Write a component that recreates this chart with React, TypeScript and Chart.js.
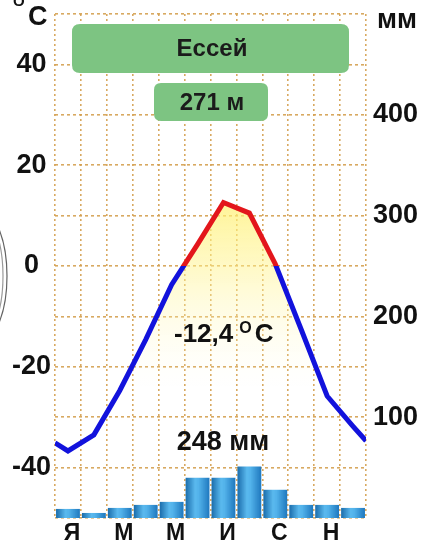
import React, { useEffect, useRef } from 'react';
import { Chart, registerables } from 'chart.js';

Chart.register(...registerables);

// ---- data ----
const months = ['Я', 'Ф', 'М', 'А', 'М', 'И', 'И', 'А', 'С', 'О', 'Н', 'Д'];
const temperature = [-36.7, -33.5, -24.7, -14.6, -3.7, 4.3, 12.6, 10.5, 0.4, -12.6, -25.8, -31.8];
const edgeTemperature = [-35.1, -34.7]; // values at the left and right edges of the plot
const precipitation = [9, 5, 10, 13, 16, 40, 40, 51, 28, 13, 13, 10];
const tempTicks = [-40, -20, 0, 20, 40];
const precipTicks = [100, 200, 300, 400];
const stationName = 'Ессей';
const elevationText = '271 м';
const meanTempText = '-12,4';
const totalPrecipText = '248 мм';
const tempUnit = 'C';
const precipUnit = 'мм';

const FONT = "'Liberation Sans', Arial, sans-serif";
const RED = '#e3161b';
const BLUE = '#1212dc';
const GRID = 'rgba(212,160,80,0.9)';

let barPatternCache: { key: string; pat: CanvasPattern | null } = { key: '', pat: null };

function barFill(context: any) {
  const chart = context.chart;
  const area = chart.chartArea;
  if (!area) return '#3a9ad8';
  const key = area.left + ':' + area.right;
  if (barPatternCache.key !== key || !barPatternCache.pat) {
    const w = Math.ceil(area.right - area.left);
    const off = document.createElement('canvas');
    off.width = w;
    off.height = 1;
    const oc = off.getContext('2d')!;
    const slot = (area.right - area.left) / months.length;
    for (let i = 0; i < months.length; i++) {
      const x0 = i * slot;
      const g = oc.createLinearGradient(x0 + slot * 0.04, 0, x0 + slot * 0.96, 0);
      g.addColorStop(0, '#1a6cab');
      g.addColorStop(0.4, '#5ab9ee');
      g.addColorStop(0.55, '#52b2ea');
      g.addColorStop(1, '#1f78be');
      oc.fillStyle = g;
      oc.fillRect(x0, 0, slot + 1, 1);
    }
    const pat = chart.ctx.createPattern(off, 'repeat-y');
    if (pat && (pat as any).setTransform) {
      pat.setTransform(new DOMMatrix([1, 0, 0, 1, area.left, 0]));
    }
    barPatternCache = { key, pat };
  }
  return barPatternCache.pat;
}

function lineStroke(context: any) {
  const chart = context.chart;
  const area = chart.chartArea;
  const ys = chart.scales && chart.scales.y;
  if (!area || !ys) return BLUE;
  const y0 = ys.getPixelForValue(0);
  const g = chart.ctx.createLinearGradient(0, area.top, 0, area.bottom);
  const f = Math.min(1, Math.max(0, (y0 - area.top) / (area.bottom - area.top)));
  g.addColorStop(0, RED);
  g.addColorStop(f, RED);
  g.addColorStop(f, BLUE);
  g.addColorStop(1, BLUE);
  return g;
}

function lineFill(context: any) {
  const chart = context.chart;
  const area = chart.chartArea;
  const ys = chart.scales && chart.scales.y;
  if (!area || !ys) return 'rgba(255,245,150,0.4)';
  const yTop = ys.getPixelForValue(14);
  const yZero = ys.getPixelForValue(0);
  const yLow = ys.getPixelForValue(-24);
  const g = chart.ctx.createLinearGradient(0, yTop, 0, yLow);
  const f = (yZero - yTop) / (yLow - yTop);
  g.addColorStop(0, 'rgba(255,240,110,0.75)');
  g.addColorStop(f, 'rgba(255,243,140,0.5)');
  g.addColorStop(1, 'rgba(255,252,220,0)');
  return g;
}

function roundRect(c: CanvasRenderingContext2D, x: number, y: number, w: number, h: number, r: number) {
  c.beginPath();
  c.moveTo(x + r, y);
  c.lineTo(x + w - r, y);
  c.quadraticCurveTo(x + w, y, x + w, y + r);
  c.lineTo(x + w, y + h - r);
  c.quadraticCurveTo(x + w, y + h, x + w - r, y + h);
  c.lineTo(x + r, y + h);
  c.quadraticCurveTo(x, y + h, x, y + h - r);
  c.lineTo(x, y + r);
  c.quadraticCurveTo(x, y, x + r, y);
  c.closePath();
}

const decorPlugin = {
  id: 'decor',
  afterDraw(chart: any) {
    const c: CanvasRenderingContext2D = chart.ctx;
    c.save();
    // station boxes
    c.fillStyle = '#7dc482';
    roundRect(c, 72, 24, 277, 49, 8);
    c.fill();
    roundRect(c, 154, 83, 114, 38, 7);
    c.fill();
    c.fillStyle = '#1b1b1b';
    c.textAlign = 'center';
    c.textBaseline = 'middle';
    c.font = `bold 24px ${FONT}`;
    c.fillText(stationName, 212, 49);
    c.fillText(elevationText, 212, 103);

    // unit labels
    c.fillStyle = '#111';
    c.textBaseline = 'alphabetic';
    c.textAlign = 'left';
    c.font = `bold 27px ${FONT}`;
    c.fillText(tempUnit, 28, 25);
    c.font = `bold 15px ${FONT}`;
    c.fillText('O', 13, 6);
    c.font = `bold 27px ${FONT}`;
    c.fillText(precipUnit, 377, 28);

    // mean temperature
    c.font = `bold 26px ${FONT}`;
    c.fillText(meanTempText, 174, 342);
    const w1 = c.measureText(meanTempText).width;
    c.font = `bold 16px ${FONT}`;
    c.fillText('O', 174 + w1 + 6, 333);
    const wo = c.measureText('O').width;
    c.font = `bold 26px ${FONT}`;
    c.fillText(tempUnit, 174 + w1 + 6 + wo + 3, 342);

    // total precipitation
    c.textAlign = 'center';
    c.font = `bold 27px ${FONT}`;
    c.fillText(totalPrecipText, 223, 450);

    // stray ellipse edge at the left border
    c.strokeStyle = 'rgba(70,70,70,0.85)';
    c.lineWidth = 1.2;
    c.beginPath();
    c.ellipse(-20, 276, 27, 66, 0, -Math.PI / 2, Math.PI / 2);
    c.stroke();
    c.strokeStyle = 'rgba(110,110,110,0.7)';
    c.beginPath();
    c.ellipse(-20, 276, 23, 62, 0, -Math.PI / 2, Math.PI / 2);
    c.stroke();
    c.restore();
  },
};

export default function App() {
  const ref = useRef<HTMLCanvasElement>(null);

  useEffect(() => {
    const canvas = ref.current;
    if (!canvas) return;
    Chart.defaults.font.family = FONT;

    const linePoints = [
      { x: 0, y: edgeTemperature[0] },
      ...temperature.map((t, i) => ({ x: i + 0.5, y: t })),
      { x: months.length, y: edgeTemperature[1] },
    ];

    const chart = new Chart(canvas, {
      type: 'bar',
      data: {
        labels: months,
        datasets: [
          {
            type: 'line',
            label: 'Температура',
            data: linePoints as any,
            xAxisID: 'xl',
            yAxisID: 'y',
            borderColor: lineStroke as any,
            backgroundColor: lineFill as any,
            borderWidth: 5,
            pointRadius: 0,
            tension: 0,
            fill: 'start',
            order: 0,
          } as any,
          {
            type: 'bar',
            label: 'Осадки',
            data: precipitation,
            xAxisID: 'x',
            yAxisID: 'y2',
            backgroundColor: barFill as any,
            borderWidth: 0,
            barPercentage: 0.92,
            categoryPercentage: 1,
            grouped: false,
            order: 1,
          } as any,
        ],
      },
      options: {
        animation: false,
        responsive: false,
        maintainAspectRatio: false,
        devicePixelRatio: 1,
        layout: { padding: { top: 14, left: 0, right: 0, bottom: 0 } },
        plugins: {
          legend: { display: false },
          tooltip: { enabled: false },
          title: { display: false },
        },
        scales: {
          x: {
            type: 'category',
            position: 'bottom',
            offset: true,
            grid: {
              display: true,
              offset: true,
              color: GRID,
              lineWidth: 1.6,
              drawTicks: false,
            },
            border: { display: false, dash: [2, 3] },
            ticks: {
              autoSkip: false,
              maxRotation: 0,
              padding: 2,
              labelOffset: 4,
              color: '#111',
              font: { size: 23, weight: 'bold', family: FONT },
              callback: (_v: any, i: number) => (i % 2 === 0 ? months[i] : ''),
            },
            afterFit: (s: any) => {
              s.height = 38;
              s.paddingLeft = 0;
              s.paddingRight = 0;
            },
          },
          xl: {
            type: 'linear',
            display: false,
            offset: false,
            min: 0,
            max: months.length,
            grid: { offset: false },
          },
          y: {
            type: 'linear',
            position: 'left',
            min: -50,
            max: 50,
            grid: {
              color: GRID,
              lineWidth: 1.6,
              drawTicks: false,
            },
            border: { display: false, dash: [3, 3] },
            ticks: {
              stepSize: 10,
              padding: 4,
              crossAlign: 'center',
              color: '#111',
              font: { size: 27, weight: 'bold', family: FONT },
              callback: (v: any) => (tempTicks.includes(Number(v)) ? String(v) : ''),
            },
            afterFit: (s: any) => {
              s.width = 55;
              s.paddingTop = 0;
              s.paddingBottom = 0;
            },
          },
          y2: {
            type: 'linear',
            position: 'right',
            min: 0,
            max: 500,
            grid: { display: false, drawTicks: false },
            border: { display: false },
            ticks: {
              stepSize: 100,
              padding: 7,
              color: '#111',
              font: { size: 27, weight: 'bold', family: FONT },
              callback: (v: any) => (precipTicks.includes(Number(v)) ? String(v) : ''),
            },
            afterFit: (s: any) => {
              s.width = 62;
              s.paddingTop = 0;
              s.paddingBottom = 0;
            },
          },
        },
      } as any,
      plugins: [decorPlugin],
    });

    return () => {
      chart.destroy();
    };
  }, []);

  return (
    <div style={{ position: 'fixed', left: 0, top: 0, width: 428, height: 556, background: '#fff' }}>
      <canvas ref={ref} width={428} height={556} style={{ display: 'block', width: 428, height: 556 }} />
    </div>
  );
}
